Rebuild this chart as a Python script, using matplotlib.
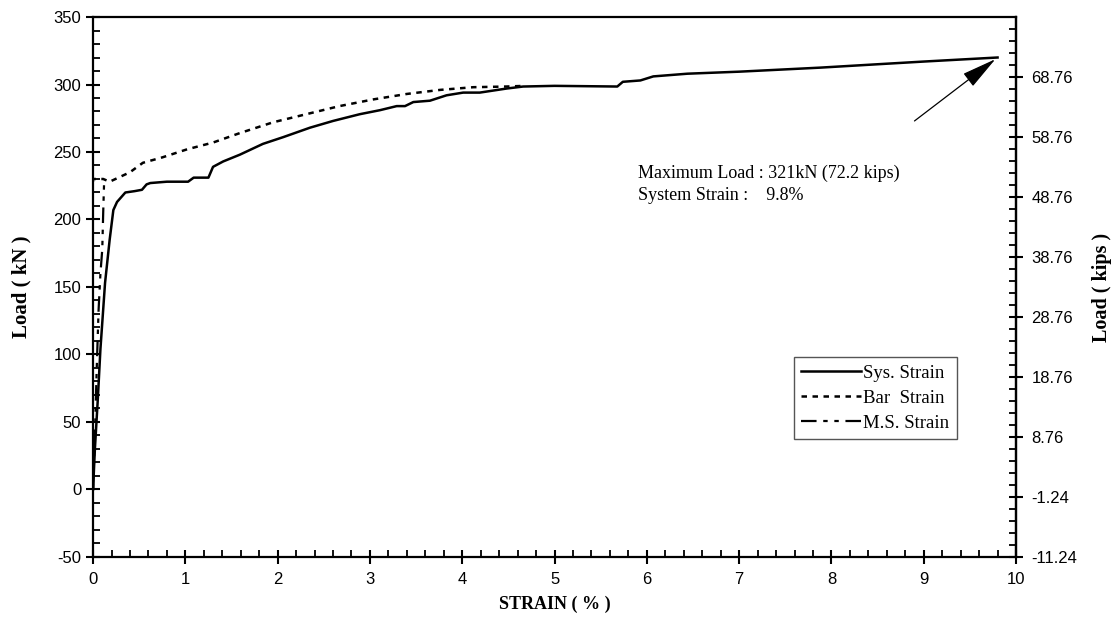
"""Load vs strain curves for system, bar and M.S. strain."""

import matplotlib

matplotlib.use("Agg")
import matplotlib.pyplot as plt
from matplotlib.ticker import MultipleLocator, FixedLocator

plt.rcParams["axes.unicode_minus"] = False

# system strain (%) and load (kN)
sys_strain = [0.0, 0.02, 0.05, 0.08, 0.13, 0.18, 0.22, 0.26, 0.35, 0.45, 0.53, 0.58,
              0.62, 0.8, 1.03, 1.09, 1.25, 1.30, 1.41, 1.59, 1.84, 2.06, 2.35, 2.6,
              2.89, 3.11, 3.29, 3.38, 3.47, 3.65, 3.83, 4.01, 4.19, 4.48, 4.66, 5.0,
              5.68, 5.74, 5.93, 6.07, 6.44, 7.0, 7.88, 8.5, 9.0, 9.8]
sys_load = [0, 30, 65, 104, 153, 185, 207, 213, 220, 221, 222, 226,
            227, 228, 228, 231, 231, 239, 243, 248, 256, 261, 268, 273,
            278, 281, 284, 284, 287, 288, 292, 294, 294, 297, 298.5, 299,
            298.5, 302, 303, 306, 308, 309.5, 312.5, 315, 317, 320]

# bar strain (%) and load (kN)
bar_strain = [0.0, -0.02, -0.06, -0.04, -0.03, -0.02, 0.0, 0.11, 0.18, 0.40, 0.54,
              0.75, 1.02, 1.3, 1.59, 1.95, 2.31, 2.67, 3.04, 3.4, 3.76, 4.12, 4.48,
              4.68]
bar_load = [0, 40, 78, 110, 160, 190, 230, 230, 228, 235, 242,
            246, 252, 257, 264, 272, 278, 284, 289, 293, 296, 298, 298.5,
            299]

# M.S. strain (%) and load (kN)
ms_strain = [0.0, 0.02, 0.04, 0.06, 0.08, 0.10, 0.11, 0.12]
ms_load = [0, 40, 90, 133, 160, 178, 205, 228]

left_ticks = [-50, 0, 50, 100, 150, 200, 250, 300, 350]
right_ticks = [-11.24, -1.24, 8.76, 18.76, 28.76, 38.76, 48.76, 58.76, 68.76]
KIPS_PER_KN = 0.2248

SERIF = "Liberation Serif"
SANS = "Liberation Sans"

fig = plt.figure(figsize=(11.17, 6.23), dpi=100)
ax = fig.add_axes([0.0833, 0.106, 0.8263, 0.8667])

ax.plot(sys_strain, sys_load, color="black", linewidth=1.8, label="Sys. Strain")
ax.plot(bar_strain, bar_load, color="black", linewidth=1.8, linestyle=(0, (2.2, 2.2)),
        label="Bar  Strain")
ax.plot(ms_strain, ms_load, color="black", linewidth=1.6,
        linestyle=(0, (7, 3, 2, 3, 2, 3)), label="M.S. Strain")

ax.set_xlim(0, 10)
ax.set_ylim(-50, 350)
ax.set_xticks(range(0, 11))
ax.set_yticks(left_ticks)
ax.xaxis.set_minor_locator(MultipleLocator(0.2))
ax.yaxis.set_minor_locator(MultipleLocator(10))
ax.tick_params(which="major", direction="inout", length=10, width=1.5, labelsize=12)
ax.tick_params(which="minor", direction="in", length=5, width=1.3)
ax.tick_params(axis="x", pad=6)
for lab in ax.get_xticklabels() + ax.get_yticklabels():
    lab.set_fontfamily(SANS)
for sp in ax.spines.values():
    sp.set_linewidth(1.6)

sec = ax.secondary_yaxis("right", functions=(lambda v: v * KIPS_PER_KN,
                                            lambda k: k / KIPS_PER_KN))
sec.yaxis.set_major_locator(FixedLocator(right_ticks))
sec.set_yticklabels([f"{t:.2f}" for t in right_ticks], fontfamily=SANS)
sec.yaxis.set_minor_locator(FixedLocator([t + d for t in right_ticks + [78.76]
                                          for d in (-8, -6, -4, -2)]))
sec.tick_params(which="major", direction="inout", length=10, width=1.5, labelsize=12, pad=6)
sec.tick_params(which="minor", direction="in", length=5, width=1.3)
sec.spines["right"].set_linewidth(1.6)

ax.set_xlabel("STRAIN ( % )", fontfamily=SERIF, fontweight="bold", fontsize=13, labelpad=6)
ax.set_ylabel("Load ( kN )", fontfamily=SERIF, fontweight="bold", fontsize=15, labelpad=16)
sec.set_ylabel("Load ( kips )", fontfamily=SERIF, fontweight="bold", fontsize=14.5, labelpad=11)

ax.annotate("", xy=(sys_strain[-1], sys_load[-1]), xytext=(8.9, 273),
            arrowprops=dict(arrowstyle="-|>,head_length=2.2,head_width=0.5",
                            color="black", linewidth=0.9, shrinkA=0, shrinkB=2))
ax.text(5.9, 234, "Maximum Load : 321kN (72.2 kips)", fontfamily=SERIF, fontsize=13,
        ha="left", va="center")
ax.text(5.9, 218, "System Strain :    9.8%", fontfamily=SERIF, fontsize=13,
        ha="left", va="center")

leg = ax.legend(loc="upper left", bbox_to_anchor=(0.759, 0.370), prop={"family": SERIF, "size": 13.5},
                fancybox=False, edgecolor="#555555", framealpha=1, handlelength=3.2,
                handletextpad=0.1, borderpad=0.4, labelspacing=0.42, borderaxespad=0)
leg.get_frame().set_linewidth(1.0)

fig.savefig("out.png", dpi=100)
